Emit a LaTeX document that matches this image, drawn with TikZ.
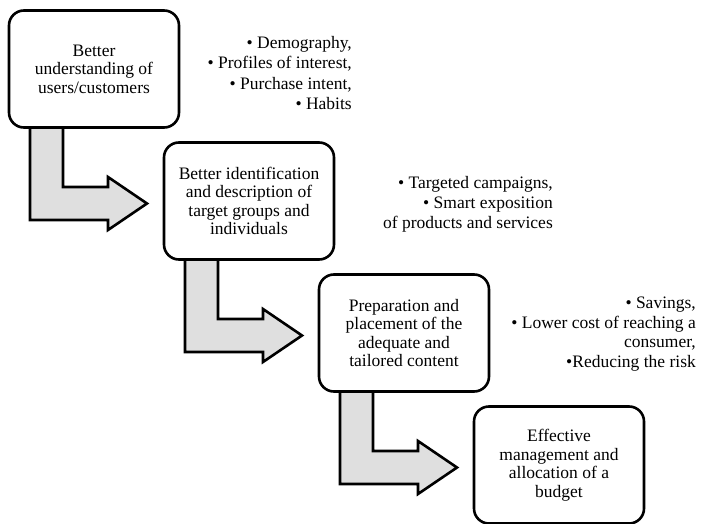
\documentclass[tikz,border=0pt]{standalone}
\usepackage{fontspec}
\setmainfont{Liberation Serif}
\usetikzlibrary{positioning,calc,backgrounds}

\begin{document}
\begin{tikzpicture}[
    x=1pt,
    y=-1pt,
    line join=miter,
    box/.style={
        draw,
        line width=2.6pt,
        rounded corners=15pt,
        fill=white,
        minimum width=170pt,
        minimum height=117pt,
        outer sep=0pt,
        inner sep=4pt,
        align=center,
        font=\fontsize{17.5}{18.5}\selectfont
    },
    note/.style={anchor=east,align=right,inner sep=0pt,font=\fontsize{17.5}{20.5}\selectfont},
    bigarrow/.style={draw,line width=2.6pt,fill=gray!25}
]
\useasboundingbox (0,0) rectangle (701,524);

\node[box] (under) at (94,69) {Better\\ understanding of\\ users/customers};
\node[box,below right=15pt and -15pt of under] (ident) {Better identification\\ and description of\\ target groups and\\ individuals};
\node[box,below right=15pt and -15pt of ident] (prep) {Preparation and\\ placement of the\\ adequate and\\ tailored content};
\node[box,below right=15pt and -15pt of prep] (budget) {Effective\\ management and\\ allocation of a\\ budget};

\node[note] (gains1) at (352,73) {• Demography,\\ • Profiles of interest,\\ • Purchase intent,\\ • Habits};
\node[note,font=\fontsize{17.5}{20}\selectfont] (gains2) at (553,204) {• Targeted campaigns,\\ • Smart exposition\\ of products and services};
\node[note,font=\fontsize{17.5}{19.5}\selectfont] (gains3) at (696,334) {• Savings,\\ • Lower cost of reaching a\\ consumer,\\ •Reducing the risk};

% bent block arrows behind the boxes
\begin{scope}[on background layer]
\foreach \src in {under,ident,prep}
    \draw[bigarrow] ($(\src.south west)+(21,-6)$) -- ++(0,98.5) -- ++(78,0) -- ++(0,10)
        -- ++(39,-26.5) -- ++(-39,-26.5) -- ++(0,10) -- ++(-45,0) -- ++(0,-65.5) -- cycle;
\end{scope}

\end{tikzpicture}
\end{document}
